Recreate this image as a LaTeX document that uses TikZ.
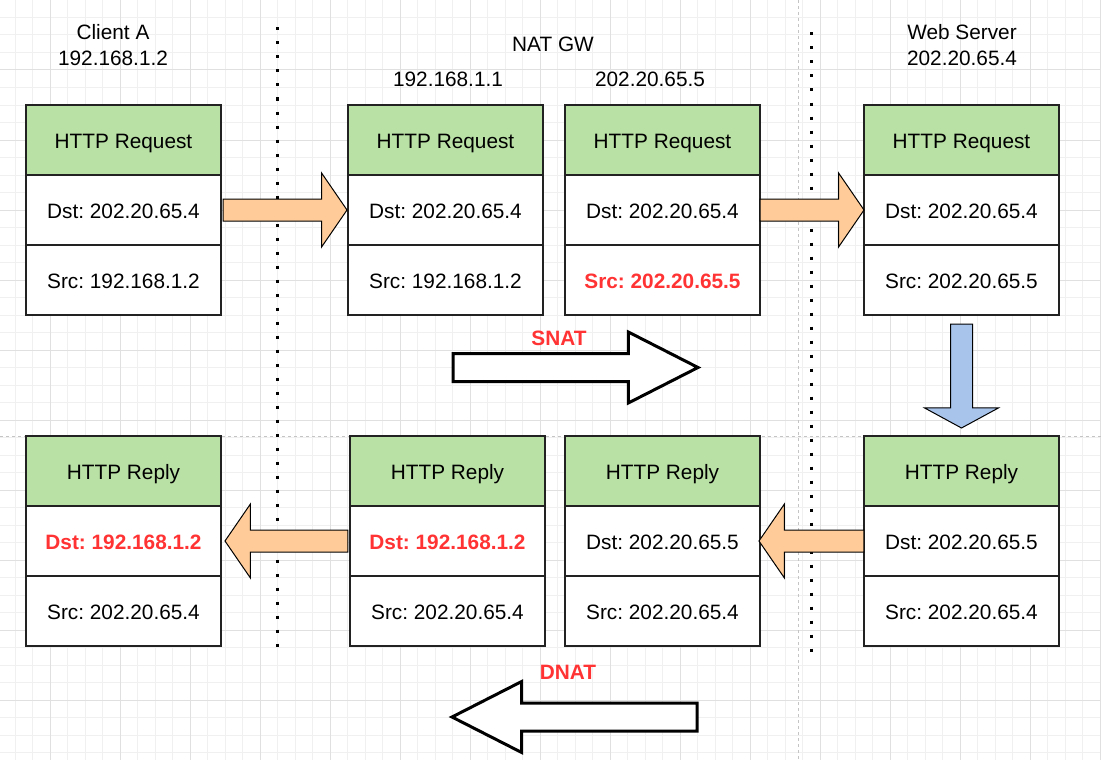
\documentclass[tikz,border=0pt]{standalone}
\usepackage{fontspec}
\setmainfont{Liberation Sans}
\usetikzlibrary{positioning}
\usetikzlibrary{shapes.arrows}
\definecolor{hdrgreen}{HTML}{B9E0A5}
\definecolor{boxline}{HTML}{222222}
\definecolor{fwdorange}{HTML}{FFCC99}
\definecolor{downblue}{HTML}{A9C4EB}
\definecolor{natred}{HTML}{FF3333}
\definecolor{gridminor}{HTML}{F0F0F0}
\definecolor{gridmajor}{HTML}{E0E0E0}
\definecolor{pageline}{HTML}{C4C4C4}
\frenchspacing

\begin{document}
\begin{tikzpicture}[x=1pt,y=-1pt,
  font=\fontsize{20.8}{26}\selectfont,
  hdr/.style={draw=boxline, line width=1.3pt, fill=hdrgreen, minimum width=195pt,
    minimum height=70pt, inner sep=0pt, outer sep=0pt, text height=16.6pt, text depth=0pt},
  fld/.style={hdr, fill=white},
  hot/.style={text=natred, font=\fontsize{20.8}{26}\selectfont\bfseries},
  fwd/.style={single arrow, draw=black, line width=1pt, fill=fwdorange, inner sep=10.5pt,
    outer sep=0pt, minimum width=73pt, single arrow head extend=26pt, single arrow tip angle=111},
  nat/.style={single arrow, draw=black, line width=3pt, fill=white, inner sep=12.5pt,
    outer sep=0pt, minimum width=68pt, minimum height=245pt, single arrow head extend=21.5pt,
    single arrow tip angle=54, anchor=tail},
  natlabel/.style={text=natred, font=\fontsize{20.8}{26}\selectfont\bfseries},
  wall/.style={line width=3pt, dash pattern=on 3pt off 11pt},
  pagebreak/.style={pageline, line width=1pt, dash pattern=on 3pt off 3pt}]
\useasboundingbox (0,0) rectangle (1101,760);

% Background grid
\foreach \x in {15,32.5,...,1101} \draw[gridminor, line width=1pt] (\x,0) -- (\x,760);
\foreach \y in {17.5,35,...,760} \draw[gridminor, line width=1pt] (0,\y) -- (1101,\y);
\foreach \x in {50,120,...,1101} \draw[gridmajor, line width=1pt] (\x,0) -- (\x,760);
\foreach \y in {70,140,...,760} \draw[gridmajor, line width=1pt] (0,\y) -- (1101,\y);
\draw[pagebreak] (798,0) -- (798,760);
\draw[pagebreak] (0,436) -- (1101,436);

% Titles
\node[align=center] (client) at (113,45) {Client A\\192.168.1.2};
\node (natgw) at (553,44) {NAT GW};
\node (gwin) at (448,79) {192.168.1.1};
\node (gwout) at (650,79) {202.20.65.5};
\node[align=center] (server) at (962,45) {Web Server\\202.20.65.4};

% Request packets
\node[hdr] (req1) at (123.5,140) {HTTP Request};
\node[fld, below=0pt of req1] (req1dst) {Dst: 202.20.65.4};
\node[fld, below=0pt of req1dst] (req1src) {Src: 192.168.1.2};
\node[hdr, right=127pt of req1] (req2) {HTTP Request};
\node[fld, below=0pt of req2] (req2dst) {Dst: 202.20.65.4};
\node[fld, below=0pt of req2dst] (req2src) {Src: 192.168.1.2};
\node[hdr, right=22pt of req2] (req3) {HTTP Request};
\node[fld, below=0pt of req3] (req3dst) {Dst: 202.20.65.4};
\node[fld, hot, below=0pt of req3dst] (req3src) {Src: 202.20.65.5};
\node[hdr, right=104pt of req3] (req4) {HTTP Request};
\node[fld, below=0pt of req4] (req4dst) {Dst: 202.20.65.4};
\node[fld, below=0pt of req4dst] (req4src) {Src: 202.20.65.5};

% Reply packets
\node[hdr] (rep1) at (123.5,471) {HTTP Reply};
\node[fld, hot, below=0pt of rep1] (rep1dst) {Dst: 192.168.1.2};
\node[fld, below=0pt of rep1dst] (rep1src) {Src: 202.20.65.4};
\node[hdr, right=129pt of rep1] (rep2) {HTTP Reply};
\node[fld, hot, below=0pt of rep2] (rep2dst) {Dst: 192.168.1.2};
\node[fld, below=0pt of rep2dst] (rep2src) {Src: 202.20.65.4};
\node[hdr, right=20pt of rep2] (rep3) {HTTP Reply};
\node[fld, below=0pt of rep3] (rep3dst) {Dst: 202.20.65.5};
\node[fld, below=0pt of rep3dst] (rep3src) {Src: 202.20.65.4};
\node[hdr, right=104pt of rep3] (rep4) {HTTP Reply};
\node[fld, below=0pt of rep4] (rep4dst) {Dst: 202.20.65.5};
\node[fld, below=0pt of rep4dst] (rep4src) {Src: 202.20.65.4};

% Network borders
\coordinate (wall1top) at (277,27.5);
\coordinate (wall1bot) at (277,648);
\coordinate (wall2top) at (811,32.5);
\coordinate (wall2bot) at (811,654);
\draw[wall] (wall1top) -- (wall1bot);
\draw[wall] (wall2top) -- (wall2bot);

% Packet moves
\node[fwd, minimum height=124pt, right=2pt of req1dst] (go1) {};
\node[fwd, minimum height=104pt, right=0pt of req3dst] (go2) {};
\node[fwd, fill=downblue, minimum height=104pt, minimum width=74pt, single arrow tip angle=123,
  shape border rotate=270, below=9pt of req4src] (turn) {};
\node[fwd, minimum height=105pt, shape border rotate=180, left=0pt of rep4dst] (back1) {};
\node[fwd, minimum height=123pt, shape border rotate=180, left=2pt of rep2dst] (back2) {};

% Translations
\node[nat] (snat) at (453,367.5) {};
\node[natlabel] (snatlbl) at (559,338) {SNAT};
\node[nat, shape border rotate=180] (dnat) at (697,717) {};
\node[natlabel] (dnatlbl) at (568,672) {DNAT};
\end{tikzpicture}
\end{document}
